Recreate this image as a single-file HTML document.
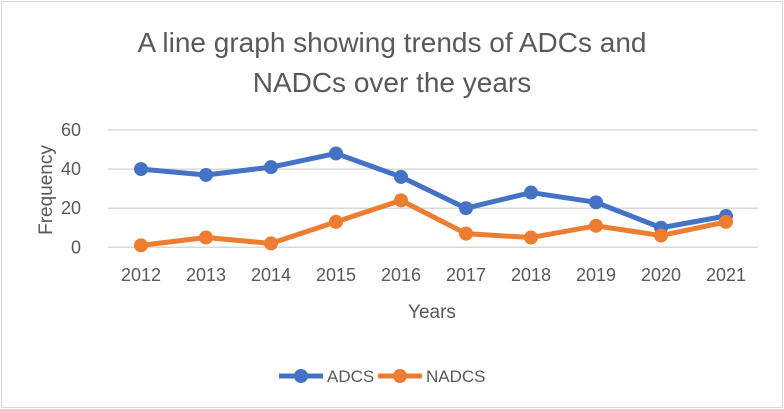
<!DOCTYPE html>
<html><head><meta charset="utf-8"><style>
body{margin:0;background:#fff;}
svg{display:block;font-family:"Liberation Sans",sans-serif;}
</style></head><body>
<svg id="chart" width="784" height="409">
<rect x="1.5" y="1.5" width="781" height="406" fill="#fff" stroke="#d9d9d9"/>
<text x="392" y="52" text-anchor="middle" font-size="28" fill="#595959">A line graph showing trends of ADCs and</text>
<text x="392" y="92" text-anchor="middle" font-size="28" fill="#595959">NADCs over the years</text>
<g id="grid"></g><g id="axes"></g><g id="series"></g>
<text x="52" y="190" text-anchor="middle" font-size="19" fill="#595959" transform="rotate(-90 52 190)">Frequency</text>
<text x="432" y="318" text-anchor="middle" font-size="19" fill="#595959">Years</text>
<g>
<line x1="279" y1="376" x2="323" y2="376" stroke="#4472c4" stroke-width="5"/><circle cx="301" cy="376" r="7" fill="#4472c4"/>
<text x="327" y="382" font-size="17" fill="#595959">ADCS</text></g>
<g>
<line x1="378" y1="376" x2="422" y2="376" stroke="#ed7d31" stroke-width="5"/><circle cx="400" cy="376" r="7" fill="#ed7d31"/>
<text x="426" y="382" font-size="17" fill="#595959">NADCS</text></g>
</svg>
<script>
const categories=["2012","2013","2014","2015","2016","2017","2018","2019","2020","2021"];
const adcs=[40,37,41,48,36,20,28,23,10,16];
const nadcs=[1,5,2,13,24,7,5,11,6,13];
const yTicks=[0,20,40,60];
const NS="http://www.w3.org/2000/svg";
const x=i=>141+i*65;
const y=v=>247.3-v*(117.3/60);
function mk(t,a,p){const e=document.createElementNS(NS,t);for(const k in a)e.setAttribute(k,a[k]);p.appendChild(e);return e;}
const grid=document.getElementById('grid'),axes=document.getElementById('axes'),ser=document.getElementById('series');
yTicks.forEach(v=>{
 const l=mk('line',{x1:108,x2:758,y1:y(v),y2:y(v),stroke:'#d9d9d9','stroke-width':1.5},grid);
 
 
 const t=mk('text',{x:81,y:y(v)+6,'text-anchor':'end','font-size':18,fill:'#595959'},axes);
 t.textContent=v;
 
 
});
categories.forEach((c,i)=>{
 const t=mk('text',{x:x(i),y:281,'text-anchor':'middle','font-size':18,fill:'#595959'},axes);
 t.textContent=c;
 
 
});
function draw(d,col,name){
 const p=mk('polyline',{points:d.map((v,i)=>x(i)+','+y(v)).join(' '),fill:'none',stroke:col,'stroke-width':5,'stroke-linejoin':'round'},ser);
 
 
 d.forEach((v,i)=>{
  const c=mk('circle',{cx:x(i),cy:y(v),r:7,fill:col},ser);
  
  
 });
}
draw(adcs,'#4472c4','adcs');
draw(nadcs,'#ed7d31','nadcs');
</script>
</body></html>
